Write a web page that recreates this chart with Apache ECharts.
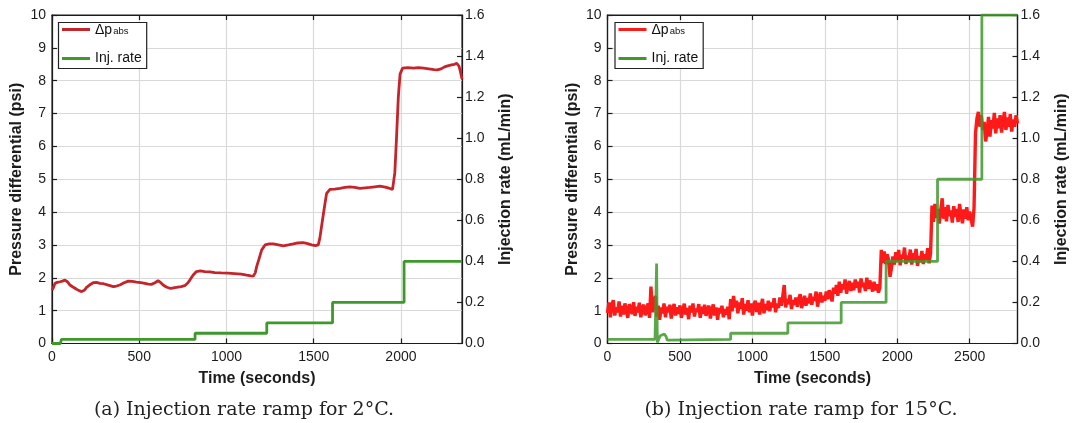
<!DOCTYPE html>
<html>
<head>
<meta charset="utf-8">
<script src="https://cdn.jsdelivr.net/npm/echarts@6/dist/echarts.min.js"></script>
<style>
html,body{margin:0;padding:0;background:#fff;}
#c{width:1078px;height:423px;}
</style>
</head>
<body>
<div id="c"></div>
<script>
// ---------- data: panel (a) 2 °C ----------
const timeDpA = [0,8,17,30,46,60,74,88,103,120,141,155,170,185,198,215,236,255,275,295,313,332,351,370,389,410,437,460,484,510,532,552,570,590,608,622,637,655,675,695,713,740,761,778,790,808,828,850,876,905,933,970,1009,1045,1085,1116,1140,1154,1165,1173,1188,1202,1221,1245,1268,1298,1326,1355,1383,1410,1440,1465,1488,1510,1526,1535,1545,1560,1574,1593,1620,1650,1680,1707,1735,1765,1795,1822,1850,1879,1910,1936,1952,1965,1975,1985,1995,2009,2040,2071,2100,2130,2160,2190,2208,2230,2250,2268,2290,2307,2320,2327,2333,2340,2350];
const dpA = [1.63,1.70,1.83,1.86,1.88,1.90,1.93,1.88,1.78,1.72,1.65,1.61,1.58,1.62,1.71,1.78,1.85,1.86,1.83,1.82,1.79,1.76,1.73,1.75,1.78,1.84,1.90,1.89,1.87,1.85,1.83,1.81,1.80,1.85,1.91,1.86,1.78,1.72,1.68,1.69,1.71,1.73,1.76,1.84,1.93,2.08,2.19,2.21,2.19,2.18,2.16,2.15,2.14,2.13,2.11,2.08,2.06,2.05,2.15,2.34,2.60,2.85,3.00,3.03,3.03,3.00,2.97,3.00,3.03,3.06,3.07,3.04,3.00,2.98,3.00,3.20,3.56,4.10,4.57,4.69,4.70,4.72,4.75,4.77,4.75,4.72,4.74,4.75,4.77,4.79,4.76,4.72,4.69,5.20,6.30,7.50,8.20,8.38,8.40,8.38,8.40,8.38,8.36,8.34,8.33,8.36,8.42,8.45,8.48,8.50,8.53,8.52,8.44,8.30,8.05];
const timeRateA = [0,48,54,820,820,1231,1231,1608,1608,2018,2018,2350];
const rateA = [0,0,0.02,0.02,0.05,0.05,0.1,0.1,0.2,0.2,0.4,0.4];

// ---------- data: panel (b) 15 °C ----------
const dpStepB = 10; // seconds between samples
const dpB = [
0.93,1.25,0.80,1.18,1.32,0.85,1.10,0.95,1.28,0.82,
1.15,0.88,1.22,1.00,0.78,1.20,1.05,0.90,1.26,0.84,
1.12,0.95,1.24,0.80,1.08,1.18,0.86,1.02,1.22,0.78,
1.73,0.95,1.20,1.45,0.82,1.15,0.72,1.10,0.92,1.22,
0.80,1.12,0.95,1.18,0.76,1.05,1.20,0.85,1.10,0.90,
1.16,0.78,1.02,1.21,0.88,1.08,0.74,1.15,0.95,1.22,
0.82,1.06,0.96,1.20,0.78,1.12,0.90,1.18,0.84,1.04,
1.15,0.76,1.00,1.19,0.85,1.10,0.72,1.08,0.92,1.15,
0.80,1.05,0.88,1.12,0.74,1.35,0.98,1.45,1.10,1.30,
0.92,1.25,1.05,1.38,0.88,1.20,1.00,1.32,0.95,1.22,
0.85,1.18,1.30,0.96,1.24,0.88,1.15,1.36,0.92,1.20,
1.02,1.30,0.98,1.25,1.10,1.38,0.95,1.22,1.08,1.40,
1.15,1.45,1.78,1.10,1.35,1.20,1.48,1.05,1.32,1.18,
1.40,1.12,1.36,1.50,1.08,1.28,1.45,1.15,1.38,1.22,
1.52,1.18,1.42,1.30,1.58,1.12,1.40,1.55,1.25,1.45,
1.30,1.58,1.35,1.62,1.48,1.28,1.70,1.52,1.78,1.45,
1.88,1.55,1.80,1.65,1.95,1.52,1.76,1.90,1.60,1.85,
1.62,1.95,1.70,1.88,1.55,1.98,1.72,1.85,1.60,2.00,
1.66,1.92,1.75,1.58,1.88,1.62,1.80,1.55,1.70,2.85,
2.45,2.80,2.42,2.72,2.55,2.03,2.30,2.65,2.40,2.78,
2.50,2.85,2.38,2.70,2.58,2.92,2.42,2.68,2.52,2.86,
2.40,2.75,2.55,2.88,2.36,2.66,2.48,2.82,2.42,2.72,
2.55,2.90,2.44,2.75,4.20,3.70,4.25,3.82,4.10,3.65,
4.05,4.42,3.80,4.15,3.72,4.22,3.88,4.05,3.68,4.18,
3.85,4.10,3.70,4.25,3.92,3.66,4.08,3.80,4.15,3.75,
4.02,3.78,3.56,4.12,6.40,6.85,7.05,6.60,6.95,6.50,
6.75,6.15,6.45,6.90,6.30,6.80,6.55,7.02,6.40,6.85,
6.55,6.95,6.42,6.78,7.05,6.50,6.88,6.60,6.98,6.45,
6.82,6.60,6.95,6.70];
const timeRateB = [0,328,334,339,341,344,350,356,364,372,392,404,412,418,850,850,1245,1245,1613,1613,1923,1923,2278,2278,2584,2584,2830];
const rateB = [0.02,0.02,0.012,0.39,0.39,0.005,0.0,0.01,0.038,0.046,0.046,0.035,0.016,0.02,0.02,0.05,0.05,0.1,0.1,0.2,0.2,0.4,0.4,0.8,0.8,1.6,1.6];

// ---------- axes / labels ----------
const timeMaxA = 2350, timeMaxB = 2830;
const pressureRange = [0, 10], rateRange = [0, 1.6];
const legendNames = {dpA:'Δp', rateA:'Inj. rate', dpB:'Δp', rateB:'Inj. rate'};
const xTitle = 'Time (seconds)';
const yTitleLeft = 'Pressure differential (psi)';
const yTitleRight = 'Injection rate (mL/min)';
const captions = ['(a) Injection rate ramp for 2°C.', '(b) Injection rate ramp for 15°C.'];

// ---------- build ----------
const zip = (xs, ys) => xs.map((x, i) => [x, ys[i]]);
const dpBData = dpB.map((v, i) => [i * dpStepB, v]);

const FONT = '"Liberation Sans", Arial, sans-serif';
const INK = '#1c1c1c';
const gridLeft = [52, 607.5];
const gridW = 410;

function xAxes(gi, max) {
  const base = {
    type: 'value', gridIndex: gi, min: 0, max: max, interval: 500,
    axisLine: {show: true, onZero: false, lineStyle: {color: INK, width: 1.2}},
    axisTick: {show: true, inside: true, length: 5, lineStyle: {color: INK, width: 1.2}},
  };
  return [
    Object.assign({}, base, {
      position: 'bottom',
      axisLabel: {show: true, fontSize: 14, color: INK, fontFamily: FONT, margin: 7, showMaxLabel: false, formatter: v => String(v)},
      splitLine: {show: true, lineStyle: {color: '#d9d9d9', width: 1.2}},
      name: xTitle, nameLocation: 'middle', nameGap: 27,
      nameTextStyle: {fontSize: 16, fontWeight: 'bold', color: INK, fontFamily: FONT}
    }),
    Object.assign({}, base, {
      position: 'top', axisLabel: {show: false}, splitLine: {show: false}
    })
  ];
}
function yAxes(gi) {
  const tick = {show: true, inside: true, length: 5, lineStyle: {color: INK, width: 1.2}};
  const line = {show: true, onZero: false, lineStyle: {color: INK, width: 1.2}};
  return [
    {
      type: 'value', gridIndex: gi, position: 'left', min: pressureRange[0], max: pressureRange[1], interval: 1,
      axisLine: line, axisTick: tick,
      axisLabel: {fontSize: 14, color: INK, fontFamily: FONT, margin: 6, formatter: v => String(v)},
      splitLine: {show: true, lineStyle: {color: '#d9d9d9', width: 1.2}},
      name: yTitleLeft, nameLocation: 'middle', nameGap: 27, nameRotate: 90,
      nameTextStyle: {fontSize: 16, fontWeight: 'bold', color: INK, fontFamily: FONT}
    },
    {
      type: 'value', gridIndex: gi, position: 'right', min: rateRange[0], max: rateRange[1], interval: 0.2,
      axisLine: line, axisTick: tick,
      axisLabel: {fontSize: 14, color: INK, fontFamily: FONT, margin: 3, formatter: v => v.toFixed(1)},
      splitLine: {show: false},
      name: yTitleRight, nameLocation: 'middle', nameGap: 36, nameRotate: 90,
      nameTextStyle: {fontSize: 16, fontWeight: 'bold', color: INK, fontFamily: FONT}
    }
  ];
}
function legend(left, names) {
  return {
    orient: 'vertical', left: left, top: 22.5, icon: 'rect', itemWidth: 28, itemHeight: 3, itemGap: 4,
    padding: [0, 5, 2, 3.5], borderColor: '#222', borderWidth: 1.2, backgroundColor: '#fff',
    data: names, selectedMode: false,
    formatter: n => n.indexOf('dp') === 0 ? '{d|' + legendNames[n] + '}{s|abs}' : legendNames[n],
    textStyle: {
      fontSize: 14, color: '#111', fontFamily: FONT, lineHeight: 16,
      rich: {
        d: {fontSize: 14, fontFamily: FONT, color: '#111', lineHeight: 14, padding: [1, 1, 9, 0], verticalAlign: 'top'},
        s: {fontSize: 9.5, fontFamily: FONT, color: '#111', lineHeight: 10, verticalAlign: 'bottom'}
      }
    }
  };
}

const xs = xAxes(0, timeMaxA).concat(xAxes(1, timeMaxB));
const ys = yAxes(0).concat(yAxes(1));

const option = {
  animation: false,
  backgroundColor: '#fff',
  grid: [
    {left: gridLeft[0], top: 15, width: gridW, height: 328.5, show: true, borderColor: INK, borderWidth: 1.2, backgroundColor: '#fff', containLabel: false, outerBoundsMode: 'none'},
    {left: gridLeft[1], top: 15, width: gridW, height: 328.5, show: true, borderColor: INK, borderWidth: 1.2, backgroundColor: '#fff', containLabel: false, outerBoundsMode: 'none'}
  ],
  xAxis: xs,
  yAxis: ys,
  legend: [legend(58.5, ['dpA', 'rateA']), legend(615, ['dpB', 'rateB'])],
  series: [
    {name: 'dpA', type: 'line', xAxisIndex: 0, yAxisIndex: 0, data: zip(timeDpA, dpA), showSymbol: false, symbol: 'none',
     lineStyle: {color: '#c4252b', width: 2.8}, itemStyle: {color: '#c4252b'}, smooth: false},
    {name: 'rateA', type: 'line', xAxisIndex: 0, yAxisIndex: 1, data: zip(timeRateA, rateA), showSymbol: false, symbol: 'none',
     lineStyle: {color: '#3f982c', width: 2.8}, itemStyle: {color: '#3f982c'}},
    {name: 'dpB', type: 'line', xAxisIndex: 2, yAxisIndex: 2, data: dpBData, showSymbol: false, symbol: 'none',
     lineStyle: {color: '#ff1a1a', width: 3.4, join: 'miter', miterLimit: 2}, itemStyle: {color: '#ff1a1a'}},
    {name: 'rateB', type: 'line', xAxisIndex: 2, yAxisIndex: 3, data: zip(timeRateB, rateB), showSymbol: false, symbol: 'none',
     lineStyle: {color: '#3f982c', width: 2.8, opacity: 0.85}, itemStyle: {color: '#3f982c'}}
  ],
  graphic: [
    {type: 'text', style: {text: captions[0], x: 244, y: 410, textAlign: 'center', textVerticalAlign: 'middle', font: '19px "DejaVu Serif", serif', fill: '#222'}},
    {type: 'text', style: {text: captions[1], x: 801, y: 410, textAlign: 'center', textVerticalAlign: 'middle', font: '19px "DejaVu Serif", serif', fill: '#222'}}
  ]
};
const chart = echarts.init(document.getElementById('c'), null, {renderer: 'canvas'});
chart.setOption(option);
</script>
</body>
</html>
